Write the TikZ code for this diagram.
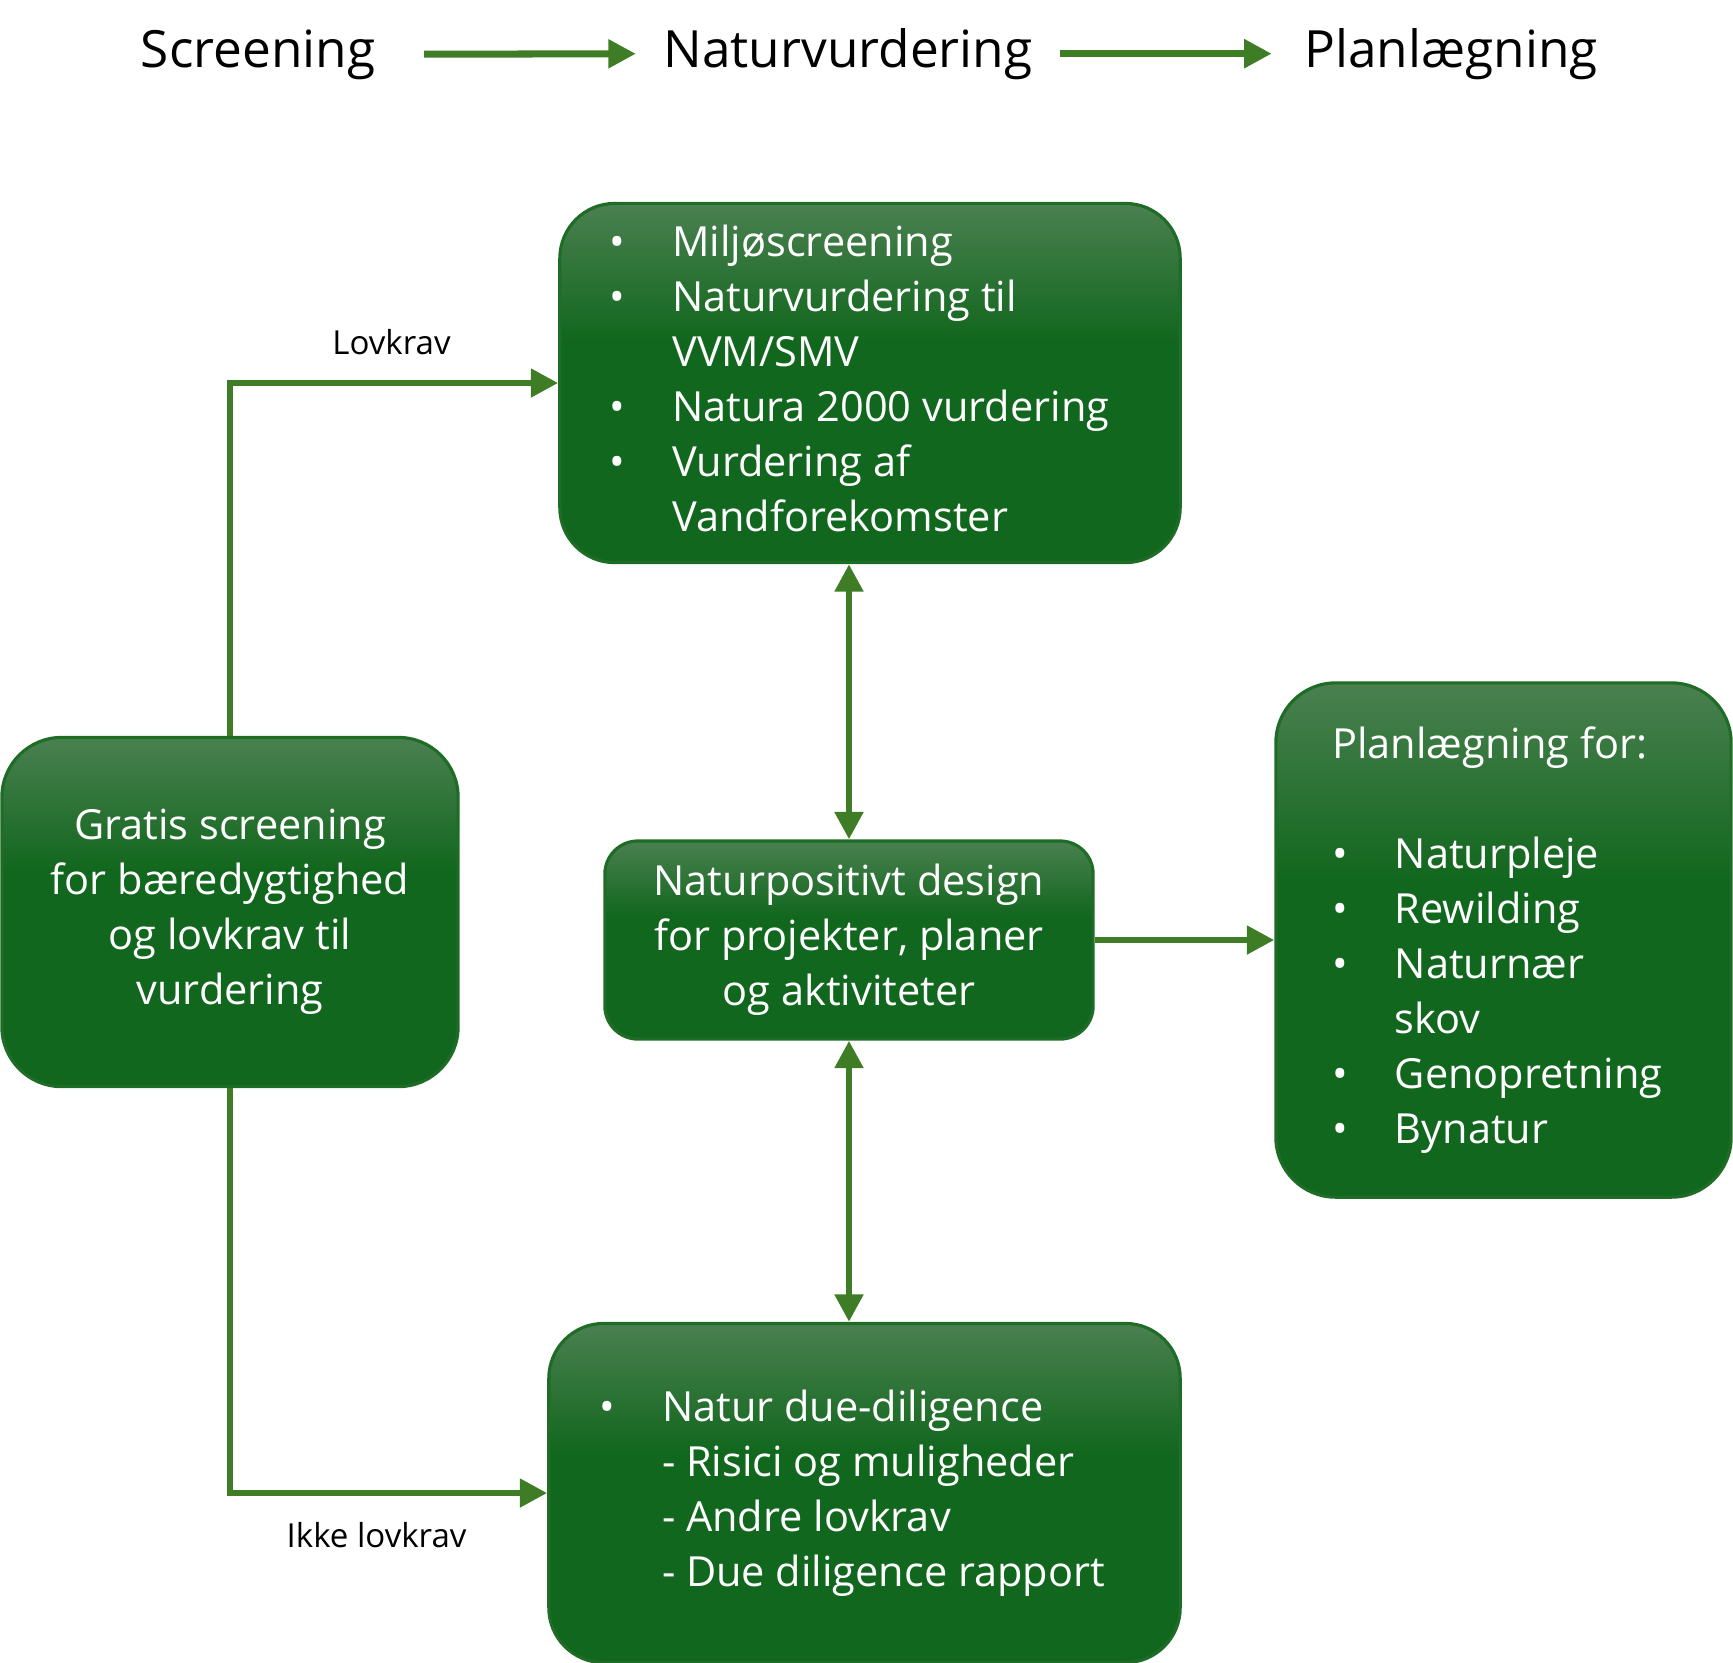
\documentclass[tikz,border=0pt]{standalone}
\usepackage{fontspec}
\setmainfont{Open Sans}
\usetikzlibrary{arrows.meta}

\definecolor{arrowgreen}{RGB}{62,125,38}
\definecolor{boxlight}{RGB}{74,128,80}
\definecolor{boxdark}{RGB}{18,103,30}
\definecolor{boxedge}{RGB}{30,108,38}

\pgfdeclareverticalshading{boxshade}{100bp}{color(0bp)=(boxdark); color(25bp)=(boxdark); color(56bp)=(boxdark); color(75bp)=(boxlight); color(100bp)=(boxlight)}

\newcommand{\boxtext}{\fontsize{11.8pt}{15.65pt}\selectfont}
\newcommand{\headtext}{\fontsize{14.6pt}{17pt}\selectfont}
\newcommand{\tagtext}{\fontsize{9.4pt}{11pt}\selectfont}
\newcommand{\bul}{\makebox[17.8pt][l]{\textbullet}}

\begin{document}
\begin{tikzpicture}[x=0.01cm, y=-0.01cm]
    \tikzset{box/.style = {draw=boxedge, line width=0.9pt, shading=boxshade, text=white, font=\boxtext, inner sep=0pt}}
    \tikzset{conn/.style = {draw=arrowgreen, line width=1.9pt, -{Triangle[length=7.8pt,width=7.8pt]}}}
    \tikzset{both/.style = {conn, {Triangle[length=7.8pt,width=7.8pt]}-{Triangle[length=7.8pt,width=7.8pt]}}}
    \tikzset{head/.style = {font=\headtext, inner sep=0pt}}
    \tikzset{tag/.style = {font=\tagtext}}

    \useasboundingbox (0,0) rectangle (1733,1662);

    % headings
    \node[head, anchor=base] (hdscreen) at (258,67) {Screening};
    \node[head, anchor=base] (hdnatur) at (848,67) {Naturvurdering};
    \node[head, anchor=base] (hdplan) at (1451,67) {Planlægning};

    % boxes
    \node[box, minimum width=6.2cm, minimum height=3.59cm, rounded corners=15.6pt] (miljo) at (870,383) {%
      \begin{tabular}{@{}l@{}l@{}}
        \bul & Miljøscreening\\
        \bul & Naturvurdering til\\
             & VVM/SMV\\
        \bul & Natura 2000 vurdering\\
        \bul & Vurdering af\\
             & Vandforekomster
      \end{tabular}\hspace*{6pt}};
    \node[box, minimum width=4.88cm, minimum height=1.98cm, rounded corners=9.4pt, align=center] (design) at (849,940)
      {Naturpositivt design\\for projekter, planer\\og aktiviteter};
    \node[box, minimum width=4.56cm, minimum height=3.49cm, rounded corners=17pt, align=center] (screen) at (230,912)
      {Gratis screening\\for bæredygtighed\\og lovkrav til\\vurdering};
    \node[box, minimum width=4.55cm, minimum height=5.14cm, rounded corners=17pt] (plan) at (1503.5,940) {%
      \begin{tabular}{@{}l@{}l@{}}
        \multicolumn{2}{@{}l@{}}{Planlægning for:}\\
        \\
        \bul & Naturpleje\\
        \bul & Rewilding\\
        \bul & Naturnær\\
             & skov\\
        \bul & Genopretning\\
        \bul & Bynatur
      \end{tabular}\hspace*{3.5pt}};
    \node[box, minimum width=6.31cm, minimum height=3.39cm, rounded corners=15.6pt] (diligence) at (864.5,1493) {%
      \begin{tabular}{@{}l@{}l@{}}
        \bul & Natur due-diligence\\
             & - Risici og muligheder\\
             & - Andre lovkrav\\
             & - Due diligence rapport
      \end{tabular}\hspace*{7pt}};

    % arrows
    \draw[conn, line width=2pt, shorten <=13.7pt, shorten >=7.7pt] (hdscreen.east) -- (hdnatur.west);
    \draw[conn, line width=2pt, shorten <=7.7pt, shorten >=9.1pt] (hdnatur.east) -- (hdplan.west);
    \draw[conn] (screen.north) |- node[tag, pos=0.746, above=3.7pt]{Lovkrav} (miljo.west);
    \draw[conn] (screen.south) |- node[tag, pos=0.731, below=4.2pt]{Ikke lovkrav} (diligence.west);
    \draw[both] (miljo.south -| design.north) -- (design.north);
    \draw[both] (design.south) -- (diligence.north -| design.south);
    \draw[conn] (design.east) -- (plan.west);
\end{tikzpicture}
\end{document}
